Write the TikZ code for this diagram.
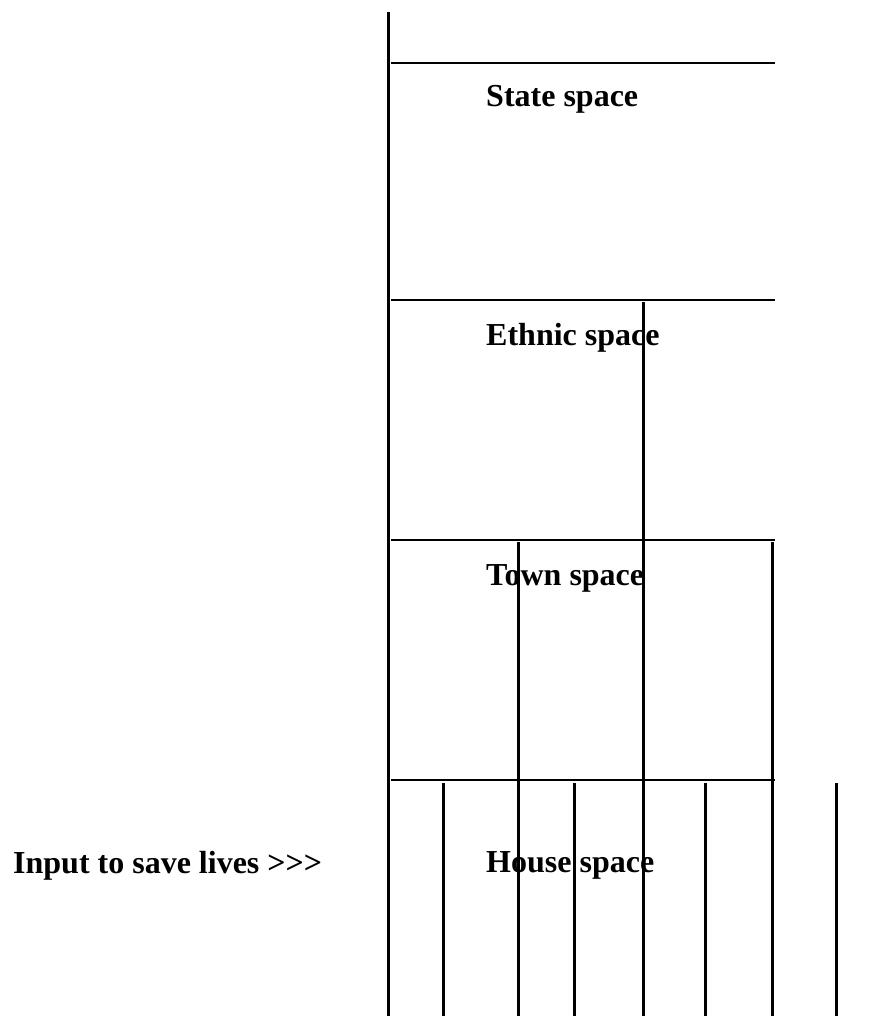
\documentclass[tikz,border=0pt]{standalone}
\usepackage{fontspec}
\setmainfont{Liberation Serif}
\usepackage{tikz}

\tikzset{
  spacelabel/.style={draw=none, anchor=base west, inner sep=0pt, font=\fontsize{32}{38}\selectfont\bfseries},
  wall/.style={line width=3pt, color=black},
  floor/.style={line width=2.6pt, color=black}
}

\begin{document}
\begin{tikzpicture}[x=1pt,y=-1pt]
\useasboundingbox (0,0) rectangle (887,1016);

\node [spacelabel] (state) at (486,107) {State space};
\node [spacelabel] (ethnic) at (486,345) {Ethnic space};
\node [spacelabel] (town) at (486,585) {Town space};
\node [spacelabel] (house) at (486,872) {House space};

\node [spacelabel] (input) at (13,873) {Input to save lives >\kern0pt>\kern0pt>};

\draw[wall] (388,12) -- (388,1016); % Main axis

\foreach \Level in {63, 300, 540, 780}{
    \draw[floor] (391,\Level) -- (775,\Level);
}

\draw[wall] (643,302) -- (643,1016);
\foreach \Point in {518, 772}{
    \draw[wall] (\Point,542) -- (\Point,1016);
}
\foreach \Point in {443, 574, 705, 836}{
    \draw[wall] (\Point,783) -- (\Point,1016);
}

\end{tikzpicture}
\end{document}
